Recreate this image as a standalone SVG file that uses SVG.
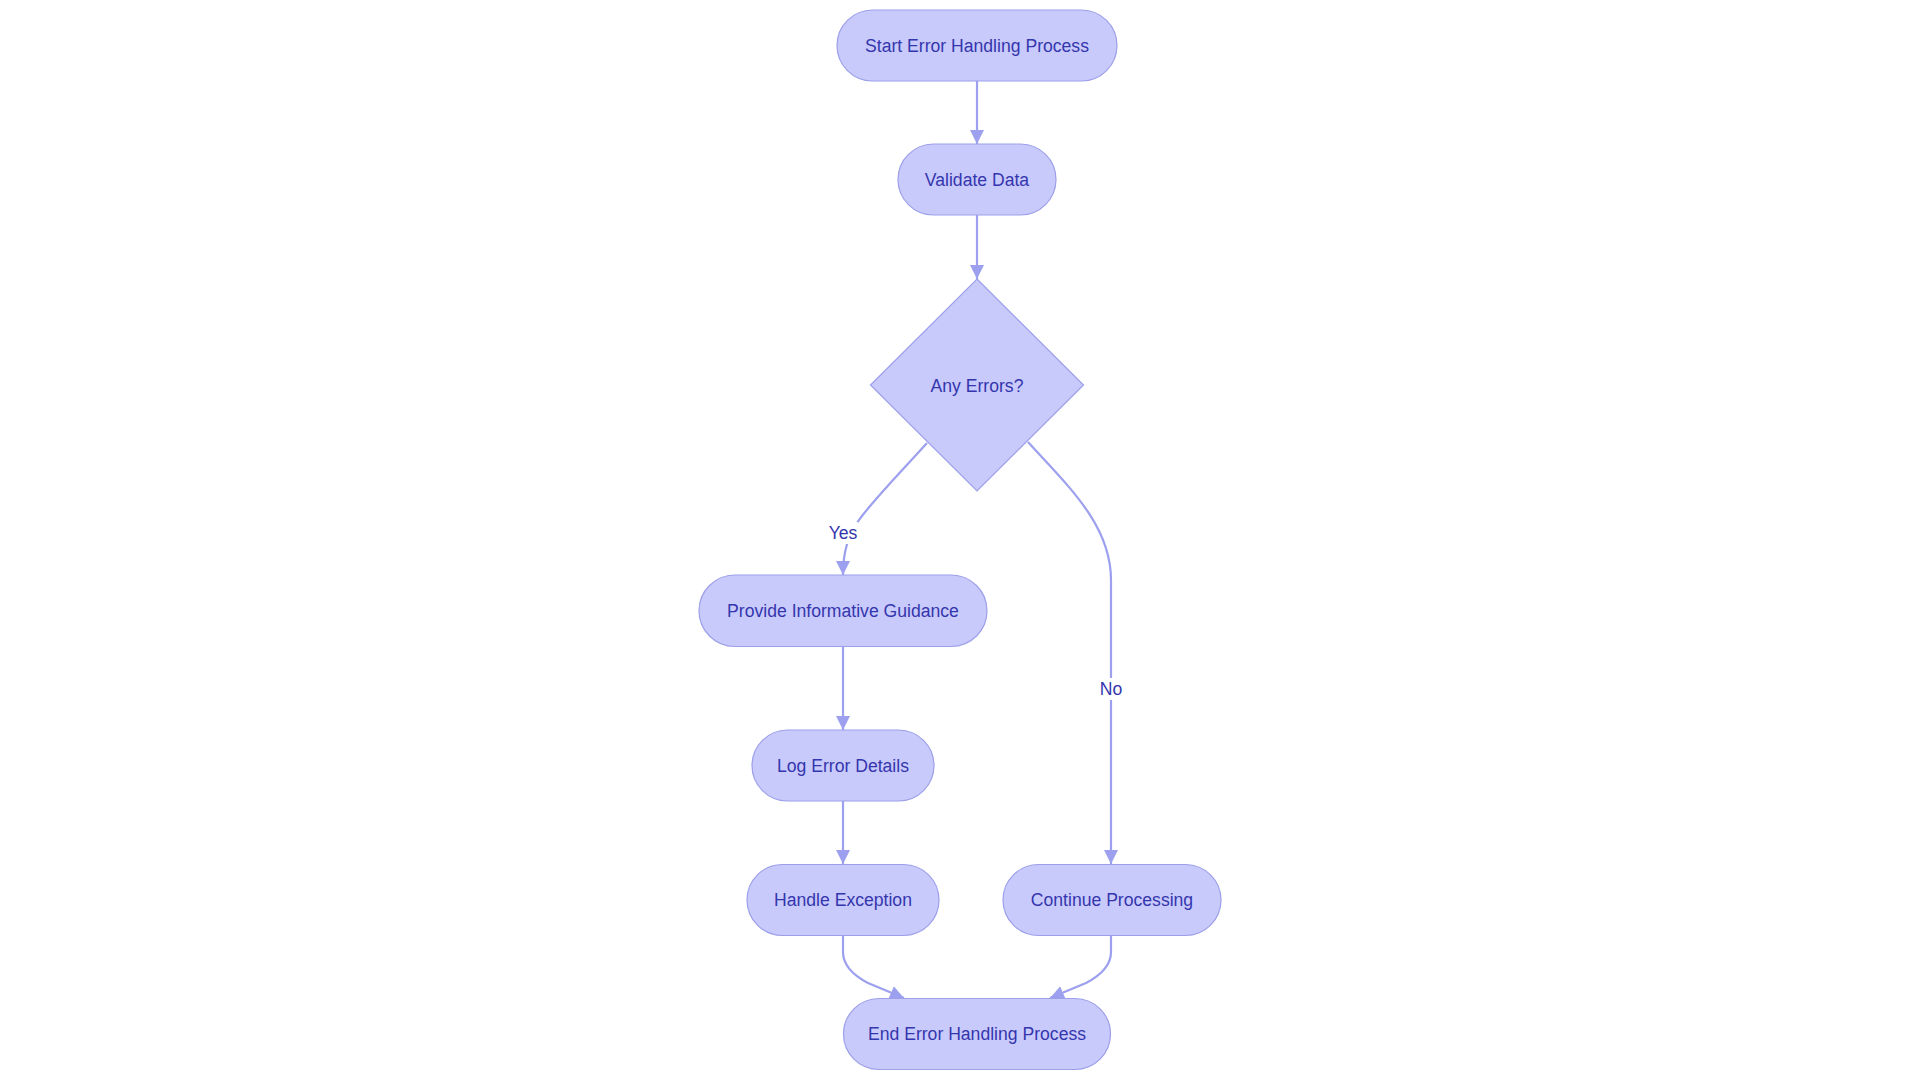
<svg xmlns="http://www.w3.org/2000/svg" width="1920" height="1080" viewBox="0 0 1920 1080">
<style>
.node{fill:#c9cafc;stroke:#9c9fe9;stroke-width:1.2}
.edge{fill:none;stroke:#9ca0ee;stroke-width:2.2}
.lbl{font-family:"Liberation Sans",Arial,sans-serif;font-size:17.6px;fill:#3436ad;text-anchor:middle;dominant-baseline:central}
.lblbg{fill:#ffffff}
</style>
<defs>
<marker id="arrow" viewBox="0 0 10 10" refX="10" refY="5" markerWidth="14" markerHeight="14" markerUnits="userSpaceOnUse" orient="auto">
<path d="M0,0 L10,5 L0,10 z" fill="#9ca0ee"/>
</marker>
</defs>
<rect width="1920" height="1080" fill="#ffffff"/>
<g id="connectors">
<path class="edge" d="M977,81 L977,144" marker-end="url(#arrow)"/>
<path class="edge" d="M977,215 L977,279" marker-end="url(#arrow)"/>
<path class="edge" d="M927,443 C899,474 866,508 857,523 S843,551 843,575" marker-end="url(#arrow)"/>
<path class="edge" d="M1028,442 C1068,486 1111,525 1111,580 L1111,864" marker-end="url(#arrow)"/>
<path class="edge" d="M843,646.5 L843,730" marker-end="url(#arrow)"/>
<path class="edge" d="M843,801 L843,864" marker-end="url(#arrow)"/>
<path class="edge" d="M843,936 L843,952 Q843,970 868,983 L904,998" marker-end="url(#arrow)"/>
<path class="edge" d="M1111,936 L1111,952 Q1111,970 1086,983 L1050,998" marker-end="url(#arrow)"/>
<g id="label-yes">
<rect class="lblbg" x="828" y="522" width="30" height="22"/>
<text class="lbl" x="843" y="533">Yes</text>
</g>
<g id="label-no">
<rect class="lblbg" x="1098" y="678" width="26" height="22"/>
<text class="lbl" x="1111" y="689">No</text>
</g>
</g>
<g id="node-start">
<rect class="node" x="837" y="10" width="280" height="71" rx="35.5"/>
<text class="lbl" x="977" y="45.5">Start Error Handling Process</text>
</g>
<g id="node-validate">
<rect class="node" x="898" y="144" width="158" height="71" rx="35.5"/>
<text class="lbl" x="977" y="179.5">Validate Data</text>
</g>
<g id="node-decision">
<polygon class="node" points="977,279 1083.5,385 977,491 870.5,385"/>
<text class="lbl" x="977" y="385.5">Any Errors?</text>
</g>
<g id="node-guidance">
<rect class="node" x="699" y="575" width="288" height="71.5" rx="35.75"/>
<text class="lbl" x="843" y="611">Provide Informative Guidance</text>
</g>
<g id="node-log">
<rect class="node" x="752" y="730" width="182" height="71" rx="35.5"/>
<text class="lbl" x="843" y="765.5">Log Error Details</text>
</g>
<g id="node-handle">
<rect class="node" x="747" y="864.5" width="192" height="71" rx="35.5"/>
<text class="lbl" x="843" y="900">Handle Exception</text>
</g>
<g id="node-continue">
<rect class="node" x="1003" y="864.5" width="218" height="71" rx="35.5"/>
<text class="lbl" x="1112" y="900">Continue Processing</text>
</g>
<g id="node-end">
<rect class="node" x="843.5" y="998.5" width="267" height="71" rx="35.5"/>
<text class="lbl" x="977" y="1034">End Error Handling Process</text>
</g>
</svg>
